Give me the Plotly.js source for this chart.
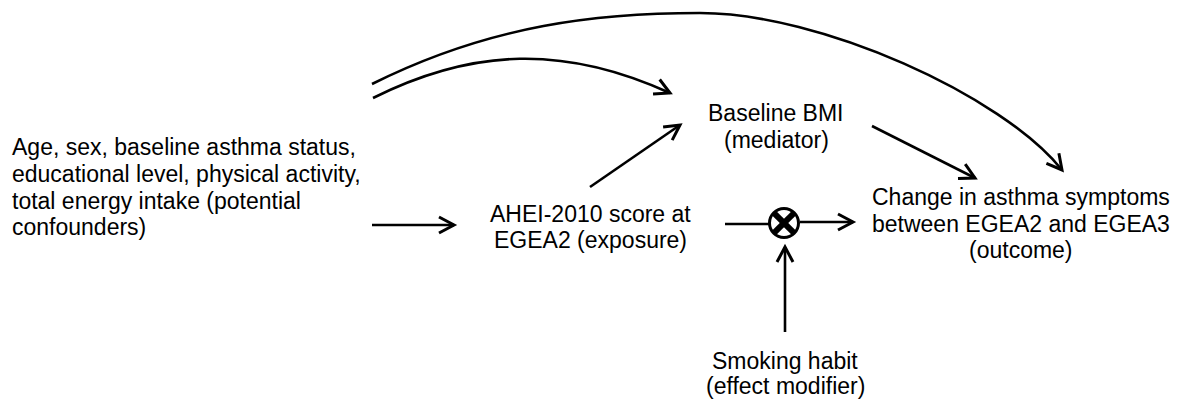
<!DOCTYPE html>
<html>
<head>
<meta charset="utf-8">
<script src="https://cdn.plot.ly/plotly-3.0.1.min.js"></script>
<style>html,body{margin:0;padding:0;background:#fff;}#chart{width:1179px;height:401px;}</style>
</head>
<body>
<div id="chart"></div>
<script>
// ---- text labels (one entry per line) ----
const textLines = [
  "Age, sex, baseline asthma status,",
  "educational level, physical activity,",
  "total energy intake (potential",
  "confounders)",
  "Baseline BMI",
  "(mediator)",
  "AHEI-2010 score at",
  "EGEA2 (exposure)",
  "Change in asthma symptoms",
  "between EGEA2 and EGEA3",
  "(outcome)",
  "Smoking habit",
  "(effect modifier)"
];
const textX = [10, 10, 10, 10, 776, 776, 590, 590, 1021, 1021, 1021, 785, 785];
const textY = [147, 174, 200.5, 227, 113, 140, 214, 240, 197, 224, 250, 361, 386];
const textAnchor = ["left","left","left","left","center","center","center","center","center","center","center","center","center"];

// ---- straight arrows: start -> tip ----
const arrowX0 = [372, 590, 872, 800, 785];
const arrowY0 = [225, 187, 126, 222, 332];
const arrowX1 = [454, 680, 975, 853, 785];
const arrowY1 = [225, 125, 178, 222, 247];
const arrowHead = [true, true, true, true, true];

// plain connector (exposure -> interaction node)
const lineX0 = [725];
const lineY0 = [224];
const lineX1 = [769];
const lineY1 = [224];

// ---- curved arrows (cubic segments) ----
// lower curve: confounders -> BMI
const curve1 = [[373,98],[473,48],[565,45],[670,93]];
// upper curve: confounders -> outcome (two cubic segments)
const curve2 = [[372,84],[492,24],[600,13],[700,13],[820,13],[1002,95],[1062,170]];

// interaction node (circled cross)
const nodeX = [784];
const nodeY = [223];
const nodeR = [14.5];

const shapes = [];
const LW = 2.6;
const black = "#000";

function head(tx, ty, dx, dy) {
  const L = Math.hypot(dx, dy);
  const ux = dx / L, uy = dy / L;
  const back = 15, half = 8;
  const bx = tx - ux * back, by = ty - uy * back;
  const ax = bx - uy * half, ay = by + ux * half;
  const cx = bx + uy * half, cy = by - ux * half;
  shapes.push({type: "path", xref: "x", yref: "y",
    path: `M ${ax},${ay} L ${tx},${ty} L ${cx},${cy}`,
    line: {color: black, width: 3}});
}

for (let i = 0; i < arrowX0.length; i++) {
  shapes.push({type: "line", xref: "x", yref: "y",
    x0: arrowX0[i], y0: arrowY0[i], x1: arrowX1[i], y1: arrowY1[i],
    line: {color: black, width: LW}});
  if (arrowHead[i]) head(arrowX1[i], arrowY1[i], arrowX1[i] - arrowX0[i], arrowY1[i] - arrowY0[i]);
}
for (let i = 0; i < lineX0.length; i++) {
  shapes.push({type: "line", xref: "x", yref: "y",
    x0: lineX0[i], y0: lineY0[i], x1: lineX1[i], y1: lineY1[i],
    line: {color: black, width: LW}});
}

function curvePath(pts) {
  let p = `M ${pts[0][0]},${pts[0][1]}`;
  for (let i = 1; i + 2 < pts.length; i += 3) {
    p += ` C ${pts[i][0]},${pts[i][1]} ${pts[i+1][0]},${pts[i+1][1]} ${pts[i+2][0]},${pts[i+2][1]}`;
  }
  return p;
}
[curve1, curve2].forEach(c => {
  shapes.push({type: "path", xref: "x", yref: "y", path: curvePath(c),
    line: {color: black, width: LW}});
  const n = c.length;
  head(c[n-1][0], c[n-1][1], c[n-1][0] - c[n-2][0], c[n-1][1] - c[n-2][1]);
});

for (let i = 0; i < nodeX.length; i++) {
  const cx = nodeX[i], cy = nodeY[i], r = nodeR[i];
  shapes.push({type: "circle", xref: "x", yref: "y",
    x0: cx - r, x1: cx + r, y0: cy - r, y1: cy + r,
    fillcolor: "#fff", line: {color: black, width: 3}});
  const d = r * 0.72;
  shapes.push({type: "line", xref: "x", yref: "y", x0: cx - d, y0: cy - d, x1: cx + d, y1: cy + d, line: {color: black, width: 6}});
  shapes.push({type: "line", xref: "x", yref: "y", x0: cx - d, y0: cy + d, x1: cx + d, y1: cy - d, line: {color: black, width: 6}});
}

const annotations = textLines.map((t, i) => ({
  text: t, x: textX[i], y: textY[i], xref: "x", yref: "y",
  xanchor: textAnchor[i], yanchor: "middle", showarrow: false,
  font: {family: "Liberation Sans, Arial, Helvetica, sans-serif", size: 23, color: "#000"}
}));

const layout = {
  width: 1179, height: 401,
  margin: {l: 0, r: 0, t: 0, b: 0},
  paper_bgcolor: "#fff", plot_bgcolor: "#fff",
  xaxis: {range: [0, 1179], visible: false, fixedrange: true},
  yaxis: {range: [401, 0], visible: false, fixedrange: true},
  shapes: shapes,
  annotations: annotations,
  showlegend: false
};

Plotly.newPlot("chart", [], layout, {displayModeBar: false, staticPlot: true});
</script>
</body>
</html>
